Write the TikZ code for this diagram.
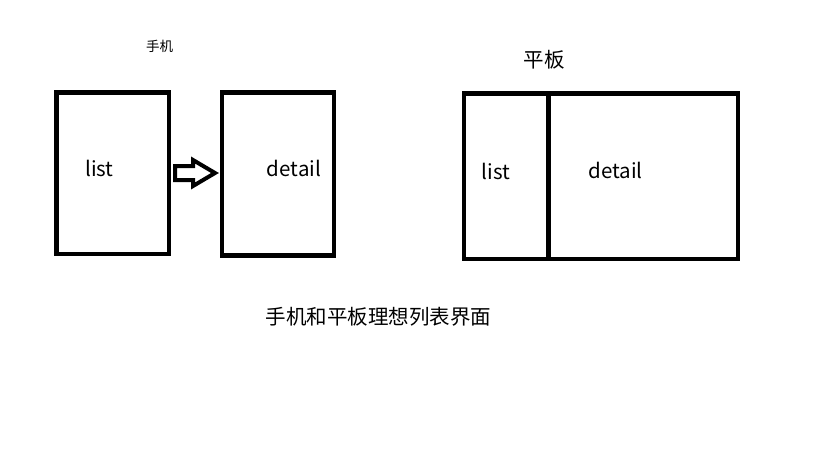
\documentclass[tikz,border=0pt]{standalone}
\usepackage{fontspec}
\setmainfont{Noto Sans CJK SC}
\begin{document}
\begin{tikzpicture}[x=1pt,y=-1pt,
  frame/.style={draw=black,line width=4.5pt},
  lbl/.style={font=\fontsize{20.5}{24}\selectfont,inner sep=0pt},
  captext/.style={font=\fontsize{20.5}{24}\selectfont,inner sep=0pt}]
\useasboundingbox[fill=white] (0,0) rectangle (819,460);
% phone
\draw[frame] (56.5,92.5) rectangle (169,254);
\draw[frame] (221.8,92.5) rectangle (334,255.5);
\node[lbl] (plist) at (99.5,168) {list};
\node[lbl] (pdetail) at (294,168) {detail};
\node[font=\fontsize{13.5}{16}\selectfont,inner sep=0pt] (phone) at (159.5,46.5) {手机};
% block arrow
\draw[line width=4pt,line join=miter] (175,166) -- (193,166) -- (193,160) -- (215,173) -- (193,186) -- (193,180) -- (175,180) -- cycle;
% tablet
\draw[frame] (464,93.5) rectangle (738,259);
\draw[line width=4.5pt] (548.3,93.5) -- (548.3,259);
\node[lbl] (tlist) at (496,171) {list};
\node[lbl] (tdetail) at (615.5,170) {detail};
\node[captext] (tablet) at (544,60) {平板};
\node[captext] (caption) at (378.5,317) {手机和平板理想列表界面};
\end{tikzpicture}
\end{document}
